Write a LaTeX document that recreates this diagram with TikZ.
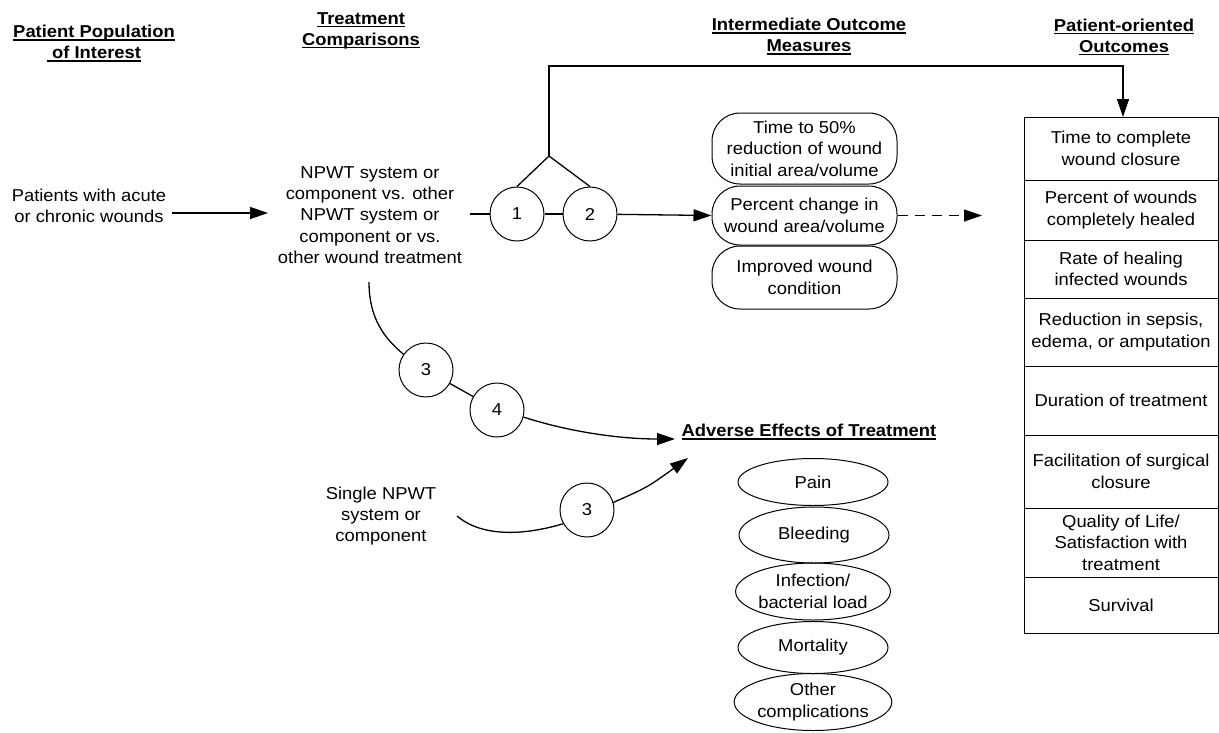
\documentclass[tikz,border=0pt]{standalone}
\usepackage{fontspec}
\setmainfont{Liberation Sans}[FakeStretch=1.07]
\usetikzlibrary{arrows.meta,shapes.geometric}
\newcommand\hul[1]{\setbox0\hbox{#1}\rlap{\rule[-2.6pt]{\wd0}{1.1pt}}\box0}
\begin{document}
\begin{tikzpicture}[x=1pt,y=-1pt,
  every node/.style={font=\fontsize{17.2}{21.4}\selectfont, align=center},
  txt/.style={inner sep=0pt},
  hdr/.style={inner sep=0pt, font=\fontsize{17.2}{21}\selectfont\bfseries},
  num/.style={circle, draw, minimum size=54pt, inner sep=0pt, line width=1pt},
  pill/.style={draw, rounded corners=28pt, minimum width=185pt, inner sep=0pt, line width=1pt},
  oval/.style={ellipse, draw, minimum width=150pt, inner sep=0pt, line width=1pt},
  cell/.style={draw, rectangle, minimum width=194pt, inner sep=0pt, line width=1pt},
  link/.style={line width=1.3pt},
  arr/.style={link, -{Triangle[length=18pt,width=12pt]}},
]
\useasboundingbox (0,0) rectangle (1219,732);
% headers
\node[hdr] (h1) at (94,43.5) {\hul{Patient Population}\\\hul{\ of Interest}};
\node[hdr] (h2) at (361,30.5) {\hul{Treatment}\\\hul{Comparisons}};
\node[hdr] (h3) at (809,36.5) {\hul{Intermediate Outcome}\\\hul{Measures}};
\node[hdr] (h4) at (1124,37) {\hul{Patient-oriented}\\\hul{Outcomes}};
\node[hdr] (h5) at (809,432) {\hul{Adverse Effects of Treatment}};
% texts
\node[txt] (pop) at (89,206) {Patients with acute\\or chronic wounds};
\node[txt] (cmp) at (370,215) {NPWT system or\\component vs. other\\NPWT system or\\component or vs.\\other wound treatment};
\node[txt] (sgl) at (381,516) {Single NPWT\\system or\\component};
% circles
\node[num] (c1) at (517,214) {1};
\node[num] (c2) at (590,214) {2};
\node[num] (c3) at (426,370) {3};
\node[num] (c4) at (497,410) {4};
\node[num] (c3b) at (587,510) {3};
% intermediate outcomes
\node[pill, minimum height=71pt] (t50) at (804.5,148.5) {Time to 50\%\\reduction of wound\\initial area/volume};
\node[pill, minimum height=59pt] (pct) at (804.5,215.5) {Percent change in\\wound area/volume};
\node[pill, minimum height=63pt] (imp) at (804.5,277.5) {Improved wound\\condition};
% patient-oriented outcomes
\node[cell, minimum height=63pt] (o1) at (1121,148.5) {Time to complete\\wound closure};
\node[cell, minimum height=60pt] (o2) at (1121,210) {Percent of wounds\\completely healed};
\node[cell, minimum height=58pt] (o3) at (1121,269) {Rate of healing\\infected wounds};
\node[cell, minimum height=68pt] (o4) at (1121,332) {Reduction in sepsis,\\edema, or amputation};
\node[cell, minimum height=69pt] (o5) at (1121,400.5) {Duration of treatment};
\node[cell, minimum height=73pt] (o6) at (1121,471.5) {Facilitation of surgical\\closure};
\node[cell, minimum height=69pt] (o7) at (1121,542.5) {Quality of Life/\\Satisfaction with\\treatment};
\node[cell, minimum height=56pt] (o8) at (1121,605) {Survival};
% adverse effects
\node[oval, minimum height=47pt] (a1) at (813,482) {Pain};
\node[oval, minimum height=56pt] (a2) at (814,535) {Bleeding};
\node[oval, minimum height=57pt] (a3) at (813,591.5) {Infection/\\bacterial load};
\node[oval, minimum height=52pt] (a4) at (813,647.5) {Mortality};
\node[oval, minimum height=57pt] (a5) at (813,702) {Other\\complications};
% coordinates
\coordinate (popE) at (172,213);
\coordinate (cmpW) at (268,213);
\coordinate (cmpE) at (470,214);
\coordinate (apex) at (549,156);
\coordinate (topL) at (549,66);
\coordinate (topR) at (1123,66);
\coordinate (poTop) at (1123,117);
\coordinate (dashE) at (982,215.5);
\coordinate (cmpB) at (369,282);
\coordinate (advL) at (675,439);
\coordinate (sglE) at (457,516);
\coordinate (advL2) at (688,458);
% connectors
\draw[arr] (popE) -- (cmpW);
\draw[link] (cmpE) -- (c1);
\draw[link] (c1) -- (c2);
\draw[arr] (c2) -- (pct.west);
\draw[link] (c1.north) -- (apex) -- (c2.north);
\draw[arr] (apex) -- (topL) -- (topR) -- (poTop);
\draw[arr, dash pattern=on 10pt off 7pt] (pct.east) -- (dashE);
\draw[link] (cmpB) .. controls (369,318) and (384,338) .. (c3.145);
\draw[link] (c3) -- (c4);
\draw[arr] (c4.-15) .. controls (570,432) and (620,439) .. (advL);
\draw[link] (sglE) .. controls (478,534) and (515,538) .. (c3b.210);
\draw[arr] (c3b.16) .. controls (648,487) .. (advL2);
\end{tikzpicture}
\end{document}
